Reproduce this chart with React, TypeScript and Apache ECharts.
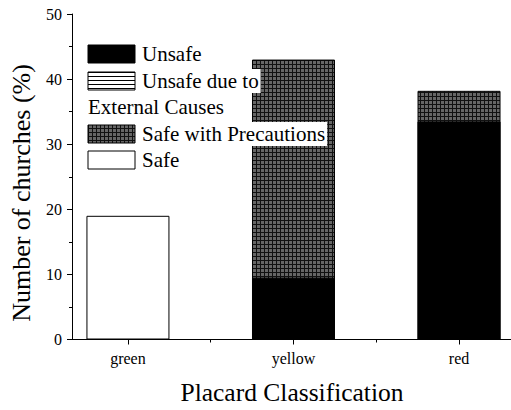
import React, { useEffect, useRef } from 'react';
import * as echarts from 'echarts';

const categories = ['green', 'yellow', 'red'];
const categoryPositions = [1, 2, 3];
const unsafe: (number | null)[] = [null, 9.5, 33.5];
const unsafeExternal: (number | null)[] = [null, null, null];
const safeWithPrecautions: (number | null)[] = [null, 33.5, 4.7];
const safe: (number | null)[] = [19, null, null];
const minorCategoryTicks = [1.5, 2.5];
const xTitle = 'Placard Classification';
const yTitle = 'Number of churches (%)';

const FONT = "'Liberation Serif', serif";

function makeGridPattern(): HTMLCanvasElement {
  const c = document.createElement('canvas');
  c.width = 4;
  c.height = 4;
  const ctx = c.getContext('2d')!;
  ctx.fillStyle = '#666666';
  ctx.fillRect(0, 0, 4, 4);
  ctx.fillStyle = '#111111';
  ctx.fillRect(0, 0, 4, 1);
  ctx.fillRect(0, 0, 1, 4);
  return c;
}

function makeStripePattern(): HTMLCanvasElement {
  const c = document.createElement('canvas');
  c.width = 4;
  c.height = 4;
  const ctx = c.getContext('2d')!;
  ctx.fillStyle = '#ffffff';
  ctx.fillRect(0, 0, 4, 4);
  ctx.fillStyle = '#000000';
  ctx.fillRect(0, 0, 4, 1);
  return c;
}

// cumulative stack levels (bottom to top), computed from the series arrays
const layers = [unsafe, unsafeExternal, safeWithPrecautions, safe];
const cumulative = layers.map((layer, li) =>
  categoryPositions.map((_, i) => {
    if (layer[i] == null) return null;
    let s = 0;
    for (let k = 0; k <= li; k++) s += layers[k][i] ?? 0;
    return s;
  })
);

const toData = (arr: (number | null)[]) =>
  categoryPositions
    .map((x, i) => [x, arr[i]])
    .filter((p) => p[1] != null);

export default function App() {
  const ref = useRef<HTMLDivElement>(null);
  useEffect(() => {
    if (!ref.current) return;
    const chart = echarts.init(ref.current, null, { renderer: 'svg' });
    const gridPat = { image: makeGridPattern(), repeat: 'repeat' } as any;
    const stripePat = { image: makeStripePattern(), repeat: 'repeat' } as any;
    const xMin = 0.662;
    const xMax = 3.314;
    const barWidth = 83;
    const itemBorder = { borderColor: '#000', borderWidth: 1 };
    const legendText = (text: string, x: number, y: number) => ({
      type: 'text',
      x,
      y,
      z: 100,
      style: {
        text,
        fill: '#000',
        fontSize: 21,
        fontFamily: FONT,
        textVerticalAlign: 'middle',
        backgroundColor: '#fff',
        padding: [2, 2, 1, 1],
      },
    });
    const legendRect = (y: number, fill: any) => ({
      type: 'rect',
      z: 100,
      shape: { x: 88, y, width: 47, height: 18 },
      style: { fill, stroke: '#000', lineWidth: 1 },
    });
    const seriesDefs = [
      { name: 'Safe', level: 3, color: '#fff' as any },
      { name: 'Safe with Precautions', level: 2, color: gridPat },
      { name: 'Unsafe due to External Causes', level: 1, color: stripePat },
      { name: 'Unsafe', level: 0, color: '#000' as any },
    ];
    chart.setOption({
      animation: false,
      backgroundColor: '#fff',
      textStyle: { fontFamily: FONT },
      grid: { left: 72, right: 0, top: 14, bottom: 70.5, containLabel: false },
      xAxis: [
        {
          type: 'value',
          min: xMin,
          max: xMax,
          position: 'bottom',
          splitLine: { show: false },
          axisLine: { show: true, lineStyle: { color: '#000', width: 1 } },
          axisTick: {
            show: true,
            inside: false,
            length: 5,
            customValues: categoryPositions,
            lineStyle: { color: '#000' },
          },
          axisLabel: {
            customValues: categoryPositions,
            formatter: (v: number) => categories[categoryPositions.indexOf(Math.round(v))] ?? '',
            color: '#000',
            fontSize: 16,
            fontFamily: FONT,
            margin: 11,
          },
        },
        {
          type: 'value',
          min: xMin,
          max: xMax,
          position: 'bottom',
          splitLine: { show: false },
          axisLine: { show: false },
          axisTick: {
            show: true,
            inside: false,
            length: 3,
            customValues: minorCategoryTicks,
            lineStyle: { color: '#000' },
          },
          axisLabel: { show: false },
        },
      ],
      yAxis: {
        type: 'value',
        min: 0,
        max: 50,
        interval: 10,
        splitLine: { show: false },
        axisLine: { show: true, lineStyle: { color: '#000', width: 1 } },
        axisTick: { show: true, inside: false, length: 5, lineStyle: { color: '#000' } },
        minorTick: { show: true, splitNumber: 2, length: 3, lineStyle: { color: '#000' } },
        axisLabel: { color: '#000', fontSize: 16, fontFamily: FONT, margin: 10 },
      },
      series: seriesDefs.map((d) => ({
        name: d.name,
        type: 'bar',
        barWidth,
        barGap: '-100%',
        data: toData(cumulative[d.level]),
        itemStyle: { color: d.color, ...itemBorder },
      })),
      graphic: [
        legendRect(45, '#000'),
        legendRect(72, stripePat),
        legendRect(125, gridPat),
        legendRect(151, '#fff'),
        legendText('Unsafe', 141, 54),
        legendText('Unsafe due to', 141, 81),
        legendText('External Causes', 87, 107),
        legendText('Safe with Precautions', 141, 134),
        legendText('Safe', 141, 160),
        {
          type: 'text',
          x: 292,
          y: 392,
          z: 100,
          style: {
            text: xTitle,
            fill: '#000',
            fontSize: 25.5,
            fontFamily: FONT,
            textAlign: 'center',
            textVerticalAlign: 'middle',
          },
        },
        {
          type: 'text',
          x: 21,
          y: 193,
          rotation: Math.PI / 2,
          z: 100,
          style: {
            text: yTitle,
            fill: '#000',
            fontSize: 26,
            fontFamily: FONT,
            textAlign: 'center',
            textVerticalAlign: 'middle',
          },
        },
      ],
    });
    return () => chart.dispose();
  }, []);
  return (
    <div
      ref={ref}
      style={{ position: 'absolute', left: 0, top: 0, width: 511, height: 410, background: '#fff' }}
    />
  );
}
